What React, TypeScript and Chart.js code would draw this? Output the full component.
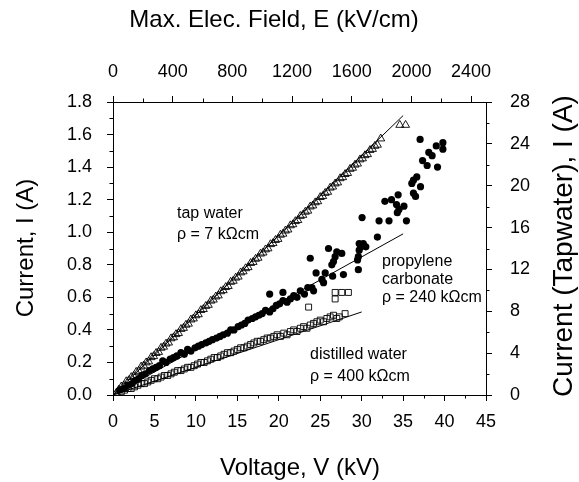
import React, { useEffect, useRef } from "react";
import { Chart, registerables } from "chart.js";

Chart.register(...registerables);

const FONT = "'Liberation Sans', Arial, Helvetica, sans-serif";

// Tap water (right axis, A)
const tapV = [0.4, 0.7, 1.0, 1.3, 1.6, 1.9, 2.2, 2.5, 2.8, 3.1, 3.4, 3.7, 4.0, 4.3, 4.6, 4.9, 5.2, 5.5, 5.8, 6.1, 6.4, 6.7, 7.0, 7.3, 7.6, 7.9, 8.2, 8.5, 8.8, 9.1, 9.4, 9.7, 10.0, 10.3, 10.6, 10.9, 11.2, 11.5, 11.8, 12.1, 12.4, 12.7, 13.0, 13.3, 13.6, 13.9, 14.2, 14.5, 14.8, 15.1, 15.4, 15.7, 16.0, 16.3, 16.6, 16.9, 17.2, 17.5, 17.8, 18.1, 18.4, 18.7, 19.0, 19.3, 19.6, 19.9, 20.2, 20.5, 20.8, 21.1, 21.4, 21.7, 22.0, 22.3, 22.6, 22.9, 23.2, 23.5, 23.8, 24.1, 24.4, 24.7, 25.0, 25.3, 25.6, 25.9, 26.2, 26.5, 26.8, 27.1, 27.4, 27.7, 28.0, 28.3, 28.6, 28.9, 29.2, 29.5, 29.8, 30.1, 30.4, 30.7, 31.0, 31.3, 31.6, 31.9, 32.3, 34.6, 35.3];
const tapI = [0.2, 0.5, 0.8, 0.9, 1.3, 1.4, 1.7, 1.8, 2.2, 2.3, 2.7, 2.8, 3.1, 3.2, 3.6, 3.7, 4.0, 4.1, 4.5, 4.6, 4.9, 5.0, 5.4, 5.5, 5.8, 5.9, 6.3, 6.4, 6.7, 6.8, 7.2, 7.3, 7.6, 7.7, 8.1, 8.2, 8.5, 8.6, 9.0, 9.1, 9.4, 9.5, 9.9, 10.0, 10.3, 10.4, 10.8, 10.9, 11.2, 11.3, 11.7, 11.8, 12.1, 12.2, 12.6, 12.7, 13.0, 13.1, 13.5, 13.6, 13.9, 14.0, 14.4, 14.5, 14.8, 14.9, 15.3, 15.4, 15.7, 15.8, 16.2, 16.3, 16.6, 16.7, 17.1, 17.2, 17.5, 17.6, 18.0, 18.1, 18.4, 18.5, 18.9, 19.0, 19.3, 19.4, 19.8, 19.9, 20.2, 20.3, 20.7, 20.8, 21.1, 21.2, 21.6, 21.7, 22.0, 22.1, 22.5, 22.6, 22.9, 23.0, 23.4, 23.5, 23.8, 23.9, 24.5, 25.8, 25.8];

// Propylene carbonate (left axis, A)
const pcV = [0.8, 1.3, 1.8, 2.3, 2.7, 3.1, 3.5, 3.9, 4.4, 4.8, 5.2, 5.6, 6.0, 6.4, 6.9, 7.3, 7.7, 8.2, 8.6, 9.0, 9.4, 9.9, 10.3, 10.7, 11.2, 11.6, 12.0, 12.5, 12.9, 13.3, 13.8, 14.2, 14.6, 15.1, 15.5, 15.9, 16.3, 16.8, 17.2, 17.6, 18.0, 18.4, 18.9, 19.3, 19.7, 20.1, 20.5, 21.0, 21.4, 21.8, 22.2, 18.9, 20.5, 22.6, 23.1, 23.5, 23.8, 24.0, 24.2, 24.5, 25.2, 25.4, 25.6, 26.0, 26.4, 26.5, 26.6, 26.8, 27.0, 27.6, 27.8, 29.5, 29.6, 29.6, 29.7, 29.7, 29.9, 30.2, 30.5, 30.05, 31.9, 32.1, 33.3, 32.8, 33.6, 34.4, 34.2, 35.1, 34.5, 34.3, 35.4, 36.05, 36.25, 36.25, 36.5, 36.65, 37.1, 37.35, 37.9, 37.05, 38.1, 38.5, 39.0, 39.8, 39.8, 39.15];
const pcI = [0.03, 0.04, 0.06, 0.07, 0.09, 0.10, 0.12, 0.13, 0.15, 0.16, 0.17, 0.18, 0.21, 0.20, 0.22, 0.23, 0.24, 0.26, 0.25, 0.28, 0.27, 0.29, 0.30, 0.31, 0.32, 0.33, 0.34, 0.35, 0.36, 0.37, 0.38, 0.40, 0.40, 0.42, 0.43, 0.44, 0.46, 0.47, 0.48, 0.49, 0.50, 0.52, 0.51, 0.53, 0.55, 0.56, 0.58, 0.57, 0.59, 0.61, 0.60, 0.62, 0.63, 0.64, 0.62, 0.66, 0.84, 0.66, 0.64, 0.75, 0.71, 0.69, 0.75, 0.90, 0.80, 0.73, 0.82, 0.85, 0.88, 0.87, 0.74, 0.83, 0.85, 0.77, 0.89, 0.93, 0.91, 0.93, 0.91, 1.09, 0.97, 1.07, 1.07, 1.19, 1.20, 1.23, 1.17, 1.16, 1.14, 1.12, 1.07, 1.30, 1.32, 1.24, 1.22, 1.34, 1.28, 1.44, 1.41, 1.57, 1.49, 1.47, 1.53, 1.55, 1.51, 1.40];

// Distilled water (left axis, A)
const dwV = [1.0, 1.4, 1.8, 2.2, 2.6, 3.0, 3.4, 3.8, 4.2, 4.6, 5.0, 5.4, 5.8, 6.2, 6.6, 7.0, 7.4, 7.8, 8.2, 8.6, 9.0, 9.4, 9.8, 10.2, 10.6, 11.0, 11.4, 11.8, 12.2, 12.6, 13.0, 13.4, 13.8, 14.2, 14.6, 15.0, 15.4, 15.8, 16.2, 16.6, 17.0, 17.4, 17.8, 18.2, 18.6, 19.0, 19.4, 19.8, 20.2, 20.6, 21.0, 21.4, 21.8, 22.2, 22.6, 23.0, 23.4, 23.6, 23.8, 24.2, 24.6, 25.0, 25.4, 25.8, 26.2, 26.6, 26.8, 26.8, 27.0, 27.3, 27.6, 28.0, 28.4];
const dwI = [0.02, 0.03, 0.04, 0.04, 0.05, 0.06, 0.07, 0.07, 0.08, 0.09, 0.10, 0.10, 0.11, 0.12, 0.12, 0.13, 0.14, 0.15, 0.15, 0.16, 0.17, 0.17, 0.18, 0.19, 0.20, 0.20, 0.21, 0.22, 0.23, 0.23, 0.24, 0.25, 0.26, 0.26, 0.27, 0.28, 0.29, 0.29, 0.30, 0.31, 0.32, 0.33, 0.33, 0.34, 0.35, 0.35, 0.36, 0.37, 0.36, 0.38, 0.37, 0.39, 0.40, 0.39, 0.41, 0.42, 0.41, 0.54, 0.43, 0.44, 0.45, 0.46, 0.45, 0.47, 0.48, 0.49, 0.59, 0.63, 0.47, 0.48, 0.63, 0.50, 0.63];

// Linear fits
const tapFitV = [0, 35];
const tapFitI = [0, 26.7];
const pcFitV = [0, 35];
const pcFitI = [0, 0.99];
const dwFitV = [0, 30];
const dwFitI = [0, 0.51];

// Axis ranges [min, max] and tick values
const voltRange = [0, 45];
const fieldRange = [0, 2500];
const currentRange = [0, 1.8];
const tapRange = [0, 28];
const voltTicks = [0, 5, 10, 15, 20, 25, 30, 35, 40, 45];
const voltMinor = [2.5, 7.5, 12.5, 17.5, 22.5, 27.5, 32.5, 37.5, 42.5];
const fieldTicks = [0, 400, 800, 1200, 1600, 2000, 2400];
const fieldMinor = [200, 600, 1000, 1400, 1800, 2200];
const currentTicks = [0, 0.2, 0.4, 0.6, 0.8, 1.0, 1.2, 1.4, 1.6, 1.8];
const currentMinor = [0.1, 0.3, 0.5, 0.7, 0.9, 1.1, 1.3, 1.5, 1.7];
const tapTicks = [0, 4, 8, 12, 16, 20, 24, 28];
const tapMinor = [2, 6, 10, 14, 18, 22, 26];

const toPts = (xs: number[], ys: number[]) => xs.map((x, i) => ({ x, y: ys[i] }));

const decorPlugin = {
  id: "decor",
  afterDraw(chart: any) {
    const ctx = chart.ctx as CanvasRenderingContext2D;
    const ca = chart.chartArea;
    ctx.save();
    ctx.strokeStyle = "#000";
    ctx.lineWidth = 1;
    const minorLen = 3.5;
    const drawMinor = (id: string, vals: number[], side: string) => {
      const s = chart.scales[id];
      for (const v of vals) {
        const p = Math.round(s.getPixelForValue(v)) + 0.5;
        ctx.beginPath();
        if (side === "bottom") { ctx.moveTo(p, ca.bottom); ctx.lineTo(p, ca.bottom + minorLen); }
        if (side === "top") { ctx.moveTo(p, ca.top); ctx.lineTo(p, ca.top - minorLen); }
        if (side === "left") { ctx.moveTo(ca.left, p); ctx.lineTo(ca.left - minorLen, p); }
        if (side === "right") { ctx.moveTo(ca.right, p); ctx.lineTo(ca.right + minorLen, p); }
        ctx.stroke();
      }
    };
    drawMinor("x", voltMinor, "bottom");
    drawMinor("x2", fieldMinor, "top");
    drawMinor("y", currentMinor, "left");
    drawMinor("y2", tapMinor, "right");

    ctx.fillStyle = "#000";
    ctx.textBaseline = "middle";
    ctx.textAlign = "center";
    ctx.font = `24px ${FONT}`;
    ctx.fillText("Max. Elec. Field, E (kV/cm)", 274, 20);
    ctx.fillText("Voltage, V (kV)", 300, 468);
    ctx.save();
    ctx.translate(26, 248);
    ctx.rotate(-Math.PI / 2);
    ctx.fillText("Current, I (A)", 0, 0);
    ctx.restore();
    ctx.save();
    ctx.font = `28px ${FONT}`;
    ctx.translate(564, 246);
    ctx.rotate(-Math.PI / 2);
    ctx.fillText("Current (Tapwater), I (A)", 0, 0);
    ctx.restore();

    ctx.textAlign = "left";
    ctx.font = `16px ${FONT}`;
    ctx.fillText("tap water", 177, 214);
    ctx.fillText("\u03C1 = 7 k\u03A9cm", 177, 235);
    ctx.fillText("propylene", 382, 262);
    ctx.fillText("carbonate", 382, 280);
    ctx.fillText("\u03C1 = 240 k\u03A9cm", 382, 298);
    ctx.fillText("distilled water", 310, 355);
    ctx.fillText("\u03C1 = 400 k\u03A9cm", 310, 377);
    ctx.restore();
  },
};

const makeAxis = (
  position: string,
  range: number[],
  tickVals: number[],
  padding: number,
  size: number,
  fmt: (v: number) => string
) => ({
  type: "linear",
  position,
  min: range[0],
  max: range[1],
  grid: {
    display: true,
    drawOnChartArea: false,
    drawTicks: true,
    tickLength: 6,
    tickColor: "#000",
    tickWidth: 1,
  },
  border: { display: true, color: "#000", width: 1 },
  ticks: {
    color: "#000",
    font: { family: FONT, size: 18 },
    padding,
    maxRotation: 0,
    minRotation: 0,
    autoSkip: false,
    callback: (v: any) => fmt(Number(v)),
  },
  afterBuildTicks: (s: any) => {
    s.ticks = tickVals.map((v) => ({ value: v }));
  },
  afterFit: (s: any) => {
    if (position === "left" || position === "right") s.width = size;
    else s.height = size;
  },
});

export default function App() {
  const ref = useRef<HTMLCanvasElement | null>(null);
  useEffect(() => {
    if (!ref.current) return;
    const lineStyle = {
      showLine: true,
      pointRadius: 0,
      borderColor: "#000",
      borderWidth: 1,
      fill: false,
    };
    const chart = new Chart(ref.current, {
      type: "scatter",
      data: {
        datasets: [
          { label: "tap water fit", data: toPts(tapFitV, tapFitI), xAxisID: "x", yAxisID: "y2", ...lineStyle },
          { label: "propylene carbonate fit", data: toPts(pcFitV, pcFitI), xAxisID: "x", yAxisID: "y", ...lineStyle },
          { label: "distilled water fit", data: toPts(dwFitV, dwFitI), xAxisID: "x", yAxisID: "y", ...lineStyle },
          {
            label: "tap water",
            data: toPts(tapV, tapI),
            xAxisID: "x",
            yAxisID: "y2",
            pointStyle: "triangle",
            pointRadius: 4.6,
            borderColor: "#000",
            backgroundColor: "rgba(0,0,0,0)",
            borderWidth: 0.9,
          },
          {
            label: "propylene carbonate",
            data: toPts(pcV, pcI),
            xAxisID: "x",
            yAxisID: "y",
            pointStyle: "circle",
            pointRadius: 3.6,
            borderColor: "#000",
            backgroundColor: "#000",
            borderWidth: 0,
          },
          {
            label: "distilled water",
            data: toPts(dwV, dwI),
            xAxisID: "x",
            yAxisID: "y",
            pointStyle: "rect",
            pointRadius: 4.2,
            borderColor: "#000",
            backgroundColor: "rgba(0,0,0,0)",
            borderWidth: 0.9,
          },
        ],
      } as any,
      options: {
        responsive: false,
        animation: false,
        devicePixelRatio: 1,
        layout: { padding: 0 },
        plugins: { legend: { display: false }, tooltip: { enabled: false }, title: { display: false } },
        scales: {
          x: makeAxis("bottom", voltRange, voltTicks, 10, 87, (v) => String(v)),
          x2: makeAxis("top", fieldRange, fieldTicks, 13, 102, (v) => String(v)),
          y: makeAxis("left", currentRange, currentTicks, 15, 113, (v) => v.toFixed(1)),
          y2: makeAxis("right", tapRange, tapTicks, 18, 93, (v) => String(v)),
        } as any,
      },
      plugins: [decorPlugin],
    });
    return () => chart.destroy();
  }, []);
  return (
    <div style={{ position: "fixed", left: 0, top: 0, width: 579, height: 482, background: "#fff" }}>
      <canvas ref={ref} width={579} height={482} style={{ width: 579, height: 482, display: "block" }} />
    </div>
  );
}
